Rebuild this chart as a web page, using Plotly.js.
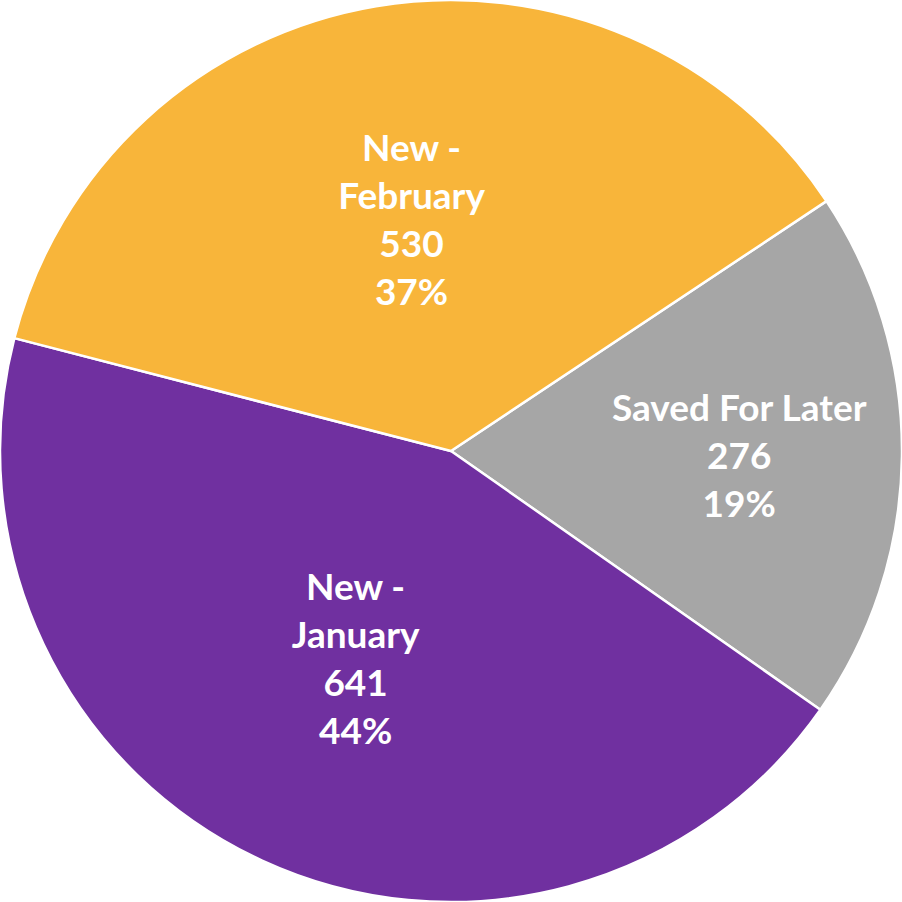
<!DOCTYPE html>
<html>
<head>
<meta charset="utf-8">
<script src="https://cdn.plot.ly/plotly-3.0.1.min.js"></script>
<style>html,body{margin:0;padding:0;background:#fff;}#chart{width:902px;height:902px;}</style>
</head>
<body>
<div id="chart"></div>
<script>
const labels = ["Saved For Later", "New -<br>January", "New -<br>February"];
const values = [276, 641, 530];
const colors = ["#A6A6A6", "#7030A0", "#F8B53A"];

const trace = {
  type: "pie",
  labels: labels,
  values: values,
  sort: false,
  direction: "clockwise",
  rotation: 56.35,
  marker: {colors: colors, line: {color: "#FFFFFF", width: 2.5}},
  texttemplate: "%{label}<br>%{value}<br>%{percent:.0%}",
  textposition: "inside",
  insidetextorientation: "horizontal",
  insidetextfont: {family: "Lato, 'DejaVu Sans', sans-serif", size: 37, color: "#FFFFFF", weight: "bold"},
  hoverinfo: "label+value+percent",
  showlegend: false
};

const layout = {
  width: 902, height: 902,
  margin: {l: 0, r: 0, t: 0, b: 0},
  paper_bgcolor: "#FFFFFF",
  showlegend: false
};

Plotly.newPlot("chart", [trace], layout, {displayModeBar: false, staticPlot: true});
</script>
</body>
</html>
